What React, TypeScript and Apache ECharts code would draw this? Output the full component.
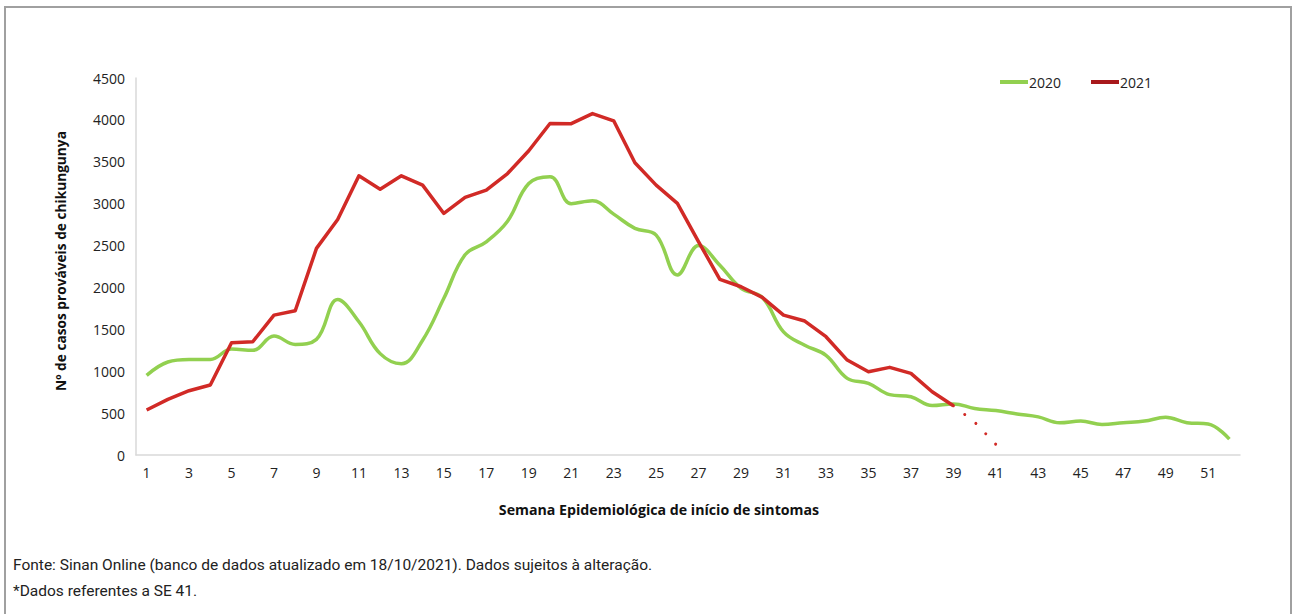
import React, { useEffect, useRef } from "react";
import * as echarts from "echarts";

const weeks: string[] = Array.from({ length: 52 }, (_, i) => String(i + 1));

const cases2020: number[] = [
  950, 1110, 1140, 1140, 1265, 1250, 1420, 1320, 1380, 1855, 1590, 1210, 1090,
  1370, 1870, 2390, 2545, 2790, 3240, 3320, 3000, 3035, 2875, 2705, 2625, 2150,
  2500, 2265, 1990, 1880, 1470, 1310, 1190, 915, 855, 720, 695, 590, 610, 555,
  530, 490, 455, 385, 405, 365, 385, 405, 450, 385, 370, 190,
];

const cases2021: (number | null)[] = [
  537, 664, 767, 835, 1340, 1352, 1670, 1722, 2466, 2812, 3332, 3173, 3332,
  3221, 2883, 3074, 3161, 3360, 3632, 3957, 3955, 4075, 3989, 3488, 3221, 3003,
  2545, 2096, 2008, 1881, 1670, 1599, 1412, 1133, 994, 1046, 974, 755, 588,
];

// Provisional weeks (dotted): weeks 39–41
const provisionalWeeks: string[] = ["39", "40", "41"];
const provisional2021: number[] = [588, 393, 127];

const yTicks = { min: 0, max: 4500, interval: 500 };

const yTitle = "Nº de casos prováveis de chikungunya";
const xTitle = "Semana Epidemiológica de início de sintomas";
const note1 = "Fonte: Sinan Online (banco de dados atualizado em 18/10/2021). Dados sujeitos à alteração.";
const note2 = "*Dados referentes a SE 41.";

export default function App() {
  const ref = useRef<HTMLDivElement>(null);

  useEffect(() => {
    if (!ref.current) return;
    const chart = echarts.init(ref.current, undefined, { renderer: "svg" });

    const dottedData = weeks.map((w) => {
      const idx = provisionalWeeks.indexOf(w);
      return idx >= 0 ? provisional2021[idx] : null;
    });
    const solid2021 = weeks.map((_, i) => (i < cases2021.length ? cases2021[i] : null));

    const font = "'Open Sans', 'Noto Sans', sans-serif";
    const noteFont = "'Liberation Sans Narrow', 'Roboto', sans-serif";

    chart.setOption({
      animation: false,
      backgroundColor: "#ffffff",
      grid: { left: 136, right: 52, top: 78, bottom: 159, containLabel: false },
      legend: {
        left: 995,
        top: 70,
        itemWidth: 28,
        itemHeight: 4,
        itemGap: 30,
        icon: "rect",
        data: ["2020", "2021"],
        textStyle: { fontFamily: font, fontSize: 14, color: "#222", padding: [0, 0, 0, -4] },
      },
      xAxis: {
        type: "category",
        data: weeks,
        boundaryGap: true,
        axisLine: { show: true, lineStyle: { color: "#d9d9d9", width: 1.5 } },
        axisTick: { show: false },
        axisLabel: {
          interval: 1,
          color: "#222",
          fontFamily: font,
          fontSize: 14,
          margin: 10,
        },
        splitLine: { show: false },
      },
      yAxis: {
        type: "value",
        min: yTicks.min,
        max: yTicks.max,
        interval: yTicks.interval,
        axisLine: { show: true, lineStyle: { color: "#d9d9d9", width: 1.5 } },
        axisTick: { show: false },
        splitLine: { show: false },
        axisLabel: {
          color: "#222",
          fontFamily: font,
          fontSize: 14,
          margin: 11,
          formatter: (v: number) => String(v),
        },
      },
      series: [
        {
          name: "2020",
          type: "line",
          data: cases2020,
          smooth: 0.4,
          showSymbol: false,
          symbol: "none",
          itemStyle: { color: "#92d050" },
          lineStyle: { color: "#92d050", width: 3.5 },
          z: 2,
        },
        {
          name: "2021",
          type: "line",
          data: solid2021,
          smooth: false,
          showSymbol: false,
          symbol: "none",
          connectNulls: false,
          itemStyle: { color: "#a8191c" },
          lineStyle: { color: "#d12a26", width: 3.5, join: "round" },
          z: 3,
        },
        {
          name: "2021*",
          type: "line",
          data: dottedData,
          smooth: false,
          showSymbol: false,
          symbol: "none",
          itemStyle: { color: "#d12a26" },
          lineStyle: { color: "#d12a26", width: 3, type: [0.01, 14.3], cap: "round" },
          z: 3,
        },
      ],
      graphic: [
        {
          type: "rect",
          shape: { x: 5, y: 7, width: 1286, height: 630 },
          style: { fill: "none", stroke: "#a0a0a0", lineWidth: 2 },
          silent: true,
          z: -1,
        },
        {
          type: "text",
          x: 60,
          y: 261,
          rotation: Math.PI / 2,
          style: {
            text: yTitle,
            fontFamily: font,
            fontSize: 13.7,
            fontWeight: "bold",
            fill: "#111",
            align: "center",
            verticalAlign: "middle",
          },
        },
        {
          type: "text",
          x: 659,
          y: 509,
          style: {
            text: xTitle,
            fontFamily: font,
            fontSize: 14.2,
            fontWeight: "bold",
            fill: "#111",
            align: "center",
            verticalAlign: "middle",
          },
        },
        {
          type: "text",
          x: 13,
          y: 565,
          style: {
            text: note1,
            fontFamily: noteFont,
            fontSize: 15.5,
            fill: "#222",
            align: "left",
            verticalAlign: "middle",
          },
        },
        {
          type: "text",
          x: 13,
          y: 591,
          style: {
            text: note2,
            fontFamily: noteFont,
            fontSize: 15.5,
            fill: "#222",
            align: "left",
            verticalAlign: "middle",
          },
        },
      ],
    });

    return () => chart.dispose();
  }, []);

  return (
    <div
      ref={ref}
      style={{ position: "fixed", left: 0, top: 0, width: 1292, height: 614, background: "#fff" }}
    />
  );
}
